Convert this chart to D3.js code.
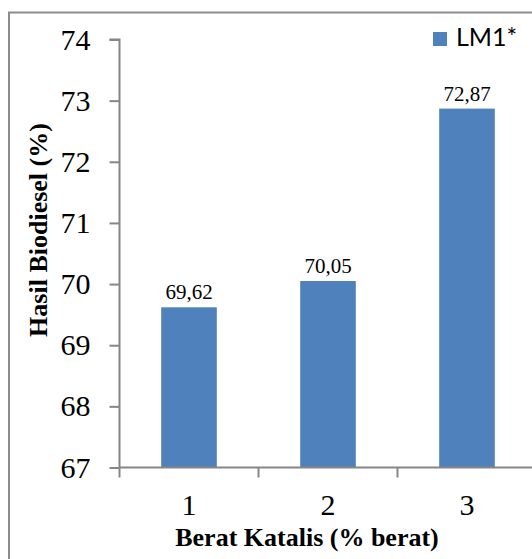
<!DOCTYPE html>
<html>
<head>
<meta charset="utf-8">
<script src="https://cdn.jsdelivr.net/npm/d3@7"></script>
<style>
html,body{margin:0;padding:0;background:#fff;}
svg{display:block;}
.serif{font-family:'Liberation Serif','Times New Roman',Times,serif;}
.sans{font-family:Lato,Carlito,'Liberation Sans',Arial,sans-serif;}
</style>
</head>
<body>
<script>
const categories = ["1", "2", "3"];
const values = [69.62, 70.05, 72.87];
const valueLabels = ["69,62", "70,05", "72,87"];
const yTicks = [67, 68, 69, 70, 71, 72, 73, 74];
const seriesName = "LM1*";

const W = 532, H = 559;
const svg = d3.select("body").append("svg").attr("width", W).attr("height", H);

// outer frame (left and top edges visible)
svg.append("path")
  .attr("d", "M9,559 L9,12.5 L532,12.5")
  .attr("fill", "none").attr("stroke", "#8c8c8c").attr("stroke-width", 2);

const x = d3.scaleBand().domain(categories).range([119.5, 536.5])
  .paddingInner(0.6).paddingOuter(0.3);
const y = d3.scaleLinear().domain([67, 74]).range([467.5, 39.5]);

const axisColor = "#868686";

// bars
svg.selectAll("rect.bar").data(values).enter().append("rect")
  .attr("class", "bar")
  .attr("x", (d, i) => x(categories[i]))
  .attr("width", x.bandwidth())
  .attr("y", d => y(d))
  .attr("height", d => y(67) - y(d))
  .attr("fill", "#4F81BD");

// value labels
svg.selectAll("text.vl").data(values).enter().append("text")
  .attr("class", "vl serif")
  .attr("x", (d, i) => x(categories[i]) + x.bandwidth() / 2)
  .attr("y", d => y(d) - 8)
  .attr("text-anchor", "middle")
  .style("font-size", "21px")
  .attr("fill", "#000")
  .text((d, i) => valueLabels[i]);

// y axis
const yAxis = d3.axisLeft(y).tickValues(yTicks).tickSize(10).tickPadding(19)
  .tickFormat(d3.format("d"));
const gy = svg.append("g").attr("transform", "translate(119.5,0)").call(yAxis)
  .attr("font-family", null).attr("font-size", null);
gy.select(".domain").attr("stroke", axisColor).attr("stroke-width", 2)
  .attr("d", `M-10,${y(74)}H0V${y(67)}`);
gy.selectAll(".tick line").attr("stroke", axisColor).attr("stroke-width", 2);
gy.selectAll(".tick text").attr("class", "serif")
  .style("font-size", "30px").attr("fill", "#000");

// x axis
const xAxis = d3.axisBottom(x).tickSize(0).tickPadding(26);
const gx = svg.append("g").attr("transform", `translate(0,${y(67)})`).call(xAxis)
  .attr("font-family", null).attr("font-size", null);
gx.select(".domain").attr("stroke", axisColor).attr("stroke-width", 2)
  .attr("d", "M119.5,0H536.5");
gx.selectAll(".tick text").attr("class", "serif")
  .style("font-size", "30px").attr("fill", "#000");
// boundary ticks between categories
const step = x.step();
const bounds = d3.range(categories.length + 1).map(i => 119.5 + i * step);
gx.selectAll("line.bt").data(bounds).enter().append("line")
  .attr("class", "bt")
  .attr("x1", d => d).attr("x2", d => d)
  .attr("y1", 0).attr("y2", 10)
  .attr("stroke", axisColor).attr("stroke-width", 2);

// axis titles
svg.append("text").attr("class", "serif")
  .attr("x", 307).attr("y", 546)
  .attr("text-anchor", "middle")
  .style("font-weight", "bold").style("font-size", "26px")
  .text("Berat Katalis (% berat)");

svg.append("text").attr("class", "serif")
  .attr("transform", "translate(47,230) rotate(-90)")
  .attr("text-anchor", "middle")
  .style("font-weight", "bold").style("font-size", "26px")
  .text("Hasil Biodiesel (%)");

// legend
const lg = svg.append("g").attr("transform", "translate(433,32)");
lg.append("rect").attr("width", 14).attr("height", 14).attr("fill", "#4F81BD");
lg.append("text").attr("class", "sans").attr("x", 23).attr("y", 14)
  .style("font-size", "25px").attr("fill", "#000")
  .text(seriesName);
</script>
</body>
</html>
